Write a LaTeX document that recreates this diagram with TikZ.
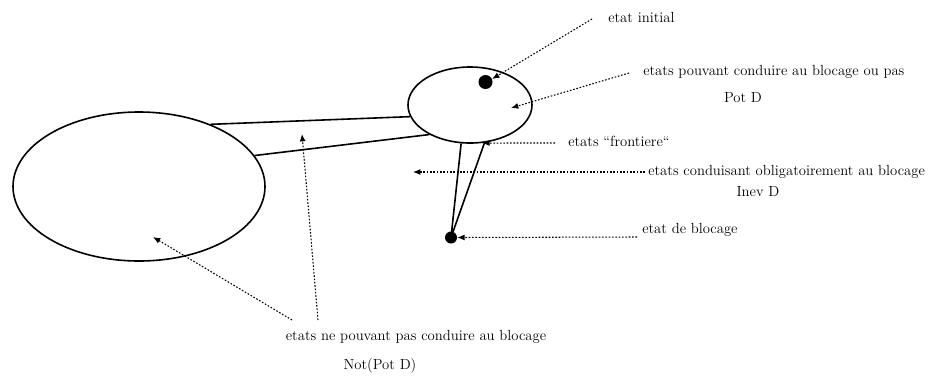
\documentclass[tikz,border=0pt]{standalone}
\usepackage{tikz}
\usetikzlibrary{arrows.meta,shapes.geometric}

\tikzset{
  set/.style={draw, ellipse, line width=1.2pt, inner sep=0pt},
  state/.style={circle, fill, inner sep=0pt},
  link/.style={line width=1.2pt},
  ptr/.style={dash pattern=on 1.2pt off 1.3pt, line width=0.8pt, -{Latex[length=5.5pt,width=4.5pt]}},
  lbl/.style={inner sep=0pt, font=\fontsize{11}{13}\selectfont}
}

\begin{document}
\begin{tikzpicture}[x=0.75pt, y=-0.75pt]
\useasboundingbox (0,0) rectangle (947,376);

  % the two sets and the two special states
  \node[set, minimum width=189pt, minimum height=111.75pt] (notpot) at (139,186.5) {};
  \node[set, minimum width=93pt, minimum height=57pt] (pot) at (470,105) {};
  \node[state, minimum size=10.5pt] (init) at (485.5,82) {};
  \node[state, minimum size=9pt] (block) at (451,237.5) {};

  \draw[link]
   (notpot.41) -- (pot.191)
   (notpot.15) -- (pot.216)
   (pot.257) -- (block.center)
   (pot.291) -- (block.center);

  % labels
  \node[lbl, anchor=west] (lblinit) at (608,17) {etat initial};
  \node[lbl, anchor=west] (lblpot) at (643,72) {etats pouvant conduire au blocage ou pas};
  \node[lbl] (lblpotd) at (743,98) {Pot D};
  \node[lbl, anchor=west] (lblfront) at (568,141) {etats “frontiere“};
  \node[lbl, anchor=west] (lblinev) at (648,172) {etats conduisant obligatoirement au blocage};
  \node[lbl] (lblinevd) at (758,192) {Inev D};
  \node[lbl, anchor=west] (lblblock) at (642,230) {etat de blocage};
  \node[lbl] (lblnot) at (416,337) {etats ne pouvant pas conduire au blocage};
  \node[lbl] (lblnotd) at (380,366) {Not(Pot D)};

  % free ends of the pointers
  \coordinate (tinit) at (592,19);
  \coordinate (tpot) at (629,73);
  \coordinate (tfront) at (555,143);
  \coordinate (tinev) at (645,172);
  \coordinate (tblock) at (637,237);
  \coordinate (tnota) at (292,320);
  \coordinate (tnotb) at (318,320);
  \coordinate (hpot) at (511,108);
  \coordinate (hinev) at (413,172);
  \coordinate (hnota) at (153,237);
  \coordinate (hnotb) at (302,134);

  \draw[ptr] (tinit) -- (init.25);
  \draw[ptr] (tpot) -- (hpot);
  \draw[ptr] (tfront) -- (pot.288);
  \draw[ptr] (tinev) -- (hinev);
  \draw[ptr] (tblock) -- (block.east);
  \draw[ptr] (tnota) -- (hnota);
  \draw[ptr] (tnotb) -- (hnotb);
\end{tikzpicture}
\end{document}
